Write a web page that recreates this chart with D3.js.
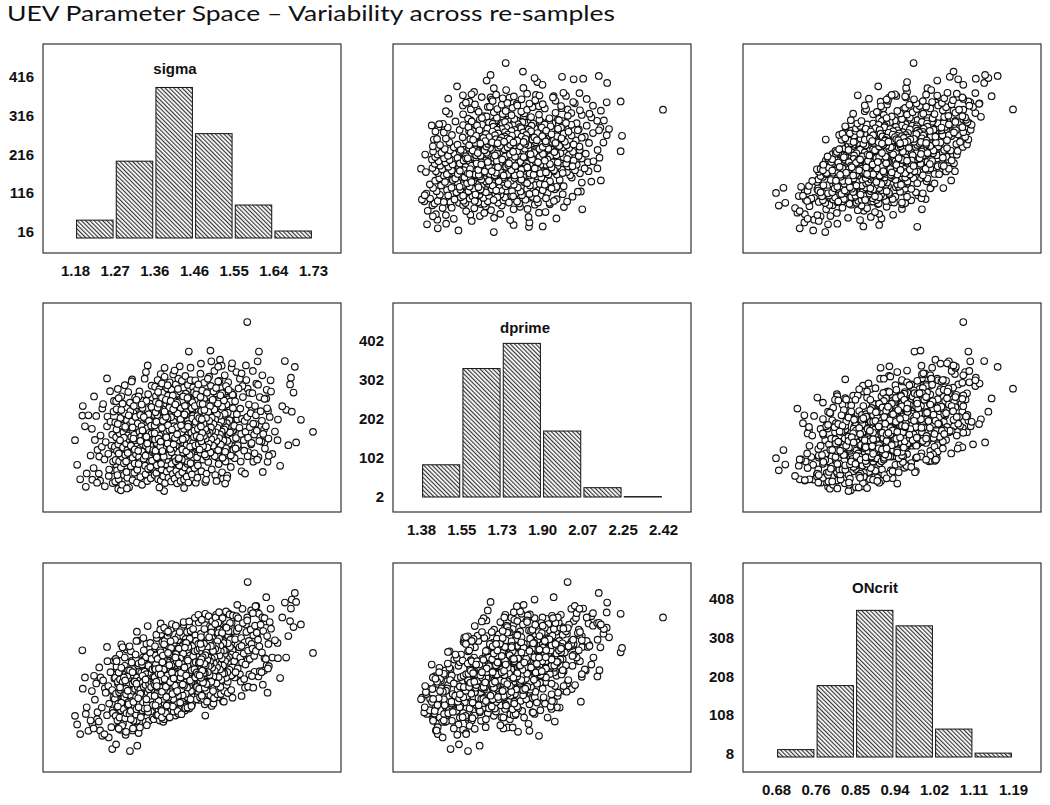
<!DOCTYPE html>
<html><head><meta charset="utf-8">
<script src="https://cdn.jsdelivr.net/npm/d3@7"></script>
<style>body{margin:0;background:#fff}</style>
</head><body>
<svg id="chart" width="1050" height="805"></svg>
<script>
// ---------------- DATA ----------------
const titleText = "UEV Parameter Space \u2013 Variability across re-samples";
const varNames = ["sigma", "dprime", "ONcrit"];
const varMin = [1.18, 1.38, 0.68];
const varMax = [1.73, 2.42, 1.19];
const sigmaCounts = [46, 198, 388, 269, 85, 18];
const dprimeCounts = [83, 331, 396, 170, 24, 1];
const oncritCounts = [19, 184, 378, 338, 72, 10];
const sigmaXLabels = ["1.18", "1.27", "1.36", "1.46", "1.55", "1.64", "1.73"];
const dprimeXLabels = ["1.38", "1.55", "1.73", "1.90", "2.07", "2.25", "2.42"];
const oncritXLabels = ["0.68", "0.76", "0.85", "0.94", "1.02", "1.11", "1.19"];
const sigmaYTicks = [16, 116, 216, 316, 416];
const dprimeYTicks = [2, 102, 202, 302, 402];
const oncritYTicks = [8, 108, 208, 308, 408];
// re-samples: [sigma, dprime, ONcrit]
const tailSamples = [
[1.180,1.693,0.786],[1.185,1.541,0.760],[1.197,1.844,0.984],[1.203,1.778,0.902],[1.205,1.406,0.792],
[1.220,1.450,0.762],[1.238,1.444,0.742],[1.254,2.073,0.994],[1.266,1.507,0.686],[1.275,1.543,0.700],
[1.280,1.394,0.796],[1.286,1.384,0.841],[1.307,1.582,0.680],[1.312,2.067,0.829],[1.324,1.632,0.696],
[1.323,1.960,1.040],[1.348,2.153,1.057],[1.378,2.100,1.065],[1.386,1.380,0.836],[1.387,2.138,0.905],
[1.422,2.147,0.924],[1.443,2.238,0.978],[1.493,2.244,0.991],[1.515,2.188,1.023],[1.481,1.435,0.787],
[1.522,1.455,0.830],[1.565,1.501,0.846],[1.573,1.487,0.871],[1.578,2.420,1.083],[1.579,2.010,1.190],
[1.580,1.620,0.874],[1.592,1.560,0.871],[1.602,2.178,1.098],[1.605,2.238,1.094],[1.604,1.588,0.905],
[1.614,1.497,0.880],[1.617,1.760,0.923],[1.618,1.679,0.960],[1.622,1.950,1.144],[1.625,1.560,0.856],
[1.636,1.608,0.962],[1.648,1.693,1.006],[1.649,1.820,0.960],[1.654,1.535,0.900],[1.665,2.180,1.128],
[1.668,1.880,0.962],[1.673,1.662,1.027],[1.677,2.036,1.072],[1.679,2.077,1.110],[1.681,1.868,1.137],
[1.685,1.986,1.054],[1.688,2.144,1.157],[1.691,1.679,1.130],[1.730,1.744,0.976]
];
const coreSamples = [
[1.216,1.598,0.772],[1.219,1.763,0.861],[1.223,1.521,0.748],[1.226,1.694,0.835],[1.229,1.842,0.884],
[1.232,1.633,0.797],[1.235,1.487,0.769],[1.239,1.721,0.902],[1.242,1.652,0.811],[1.245,1.915,0.893],
[1.248,1.574,0.731],[1.251,1.681,0.856],[1.254,1.778,0.788],[1.257,1.609,0.876],[1.259,1.512,0.823],
[1.262,1.806,0.918],[1.264,1.658,0.752],[1.266,1.727,0.864],[1.268,1.561,0.795],[1.269,1.869,0.842],
[1.271,1.637,0.899],
[1.272,1.652,0.838],[1.273,1.802,0.901],[1.274,1.571,0.786],[1.275,1.711,0.853],[1.276,1.883,0.934],
[1.277,1.626,0.812],[1.278,1.478,0.772],[1.279,1.756,0.889],[1.280,1.667,0.823],[1.281,1.951,0.917],
[1.282,1.563,0.857],[1.283,1.734,0.781],[1.284,1.612,0.896],[1.285,1.829,0.864],[1.286,1.524,0.803],
[1.287,1.693,0.931],[1.288,1.781,0.829],[1.289,1.589,0.756],[1.290,1.917,0.888],[1.291,1.648,0.871],
[1.292,1.741,0.807],[1.293,1.551,0.848],[1.294,1.705,0.842],[1.295,1.858,0.962],[1.296,1.601,0.779],
[1.297,1.768,0.912],[1.298,1.672,0.851],[1.299,1.497,0.794],[1.300,1.814,0.878],[1.301,1.631,0.906],
[1.302,1.722,0.818],[1.303,1.989,0.924],[1.304,1.568,0.827],[1.305,1.699,0.881],[1.306,1.787,0.792],
[1.307,1.615,0.923],[1.308,1.872,0.859],[1.309,1.532,0.801],[1.310,1.712,0.846],[1.311,1.669,0.947],
[1.312,1.808,0.831],[1.313,1.584,0.884],[1.314,1.747,0.862],[1.315,1.638,0.771],[1.316,1.903,0.908],
[1.317,1.726,0.891],[1.318,1.549,0.816],[1.319,1.684,0.867],[1.320,1.836,0.971],[1.321,1.606,0.843],
[1.322,1.773,0.806],[1.323,1.654,0.902],[1.324,1.511,0.829],[1.325,1.796,0.873],[1.326,1.703,0.938],
[1.327,1.962,0.944],[1.328,1.589,0.858],[1.329,1.744,0.821],[1.330,1.641,0.893],[1.331,1.848,0.865],
[1.332,1.559,0.782],[1.333,1.716,0.916],[1.334,1.779,0.849],[1.335,1.623,0.941],[1.336,1.891,0.886],
[1.337,1.668,0.827],[1.338,1.752,0.954],[1.339,1.578,0.874],[1.340,1.697,0.808],[1.341,1.827,0.919],
[1.342,1.536,0.851],[1.343,1.731,0.879],[1.344,1.659,0.963],[1.345,1.934,0.912],[1.346,1.604,0.824],
[1.347,1.767,0.897],[1.348,1.686,0.856],[1.349,1.517,0.798],[1.350,1.853,0.937],[1.351,1.639,0.884],
[1.352,1.738,0.842],[1.353,1.591,0.901],[1.354,1.806,0.976],[1.355,1.677,0.836],[1.356,1.719,0.889],
[1.357,1.897,0.914],[1.358,1.567,0.868],[1.359,1.701,0.927],[1.360,1.618,0.819],[1.361,1.798,0.895],
[1.362,1.662,0.861],
[1.276,1.758,0.951],[1.281,1.611,0.747],[1.287,1.878,0.826],[1.293,1.708,0.902],[1.298,1.561,0.868],
[1.304,1.846,0.821],[1.309,1.659,0.776],[1.313,1.771,0.918],[1.318,1.636,0.889],[1.322,1.941,0.883],
[1.327,1.546,0.812],[1.331,1.688,0.853],[1.336,1.753,0.907],[1.339,1.836,0.984],[1.343,1.597,0.896],
[1.347,1.672,0.809],[1.351,1.811,0.866],[1.354,1.527,0.847],[1.357,1.733,0.958],[1.361,1.632,0.904],
[1.279,1.793,0.814],[1.284,1.692,0.872],[1.296,1.776,0.893],[1.302,1.614,0.862],[1.315,1.703,0.828],
[1.326,1.627,0.839],[1.334,1.912,0.949],[1.345,1.714,0.836],[1.356,1.782,0.873],
[1.363,1.702,0.884],[1.364,1.846,0.931],[1.365,1.611,0.857],[1.366,1.757,0.902],[1.367,1.928,0.968],
[1.368,1.673,0.874],[1.369,1.538,0.829],[1.370,1.794,0.939],[1.371,1.716,0.866],[1.372,1.989,0.957],
[1.373,1.622,0.899],[1.374,1.781,0.823],[1.375,1.654,0.942],[1.376,1.871,0.905],[1.377,1.569,0.846],
[1.378,1.742,0.978],[1.379,1.826,0.871],[1.380,1.633,0.801],[1.381,1.952,0.931],[1.382,1.695,0.914],
[1.383,1.784,0.852],[1.384,1.597,0.893],[1.385,1.751,0.887],[1.386,1.903,1.002],[1.387,1.646,0.824],
[1.388,1.813,0.955],[1.389,1.718,0.896],[1.390,1.544,0.839],[1.391,1.861,0.921],[1.392,1.677,0.949],
[1.393,1.768,0.861],[1.394,2.031,0.967],[1.395,1.614,0.871],[1.396,1.743,0.926],[1.397,1.832,0.836],
[1.398,1.661,0.966],[1.399,1.917,0.902],[1.400,1.578,0.845],[1.401,1.757,0.889],[1.402,1.714,0.991],
[1.403,1.853,0.874],[1.404,1.629,0.928],[1.405,1.792,0.907],[1.406,1.684,0.814],[1.407,1.946,0.951],
[1.408,1.771,0.936],[1.409,1.593,0.859],[1.410,1.728,0.912],[1.411,1.881,1.016],[1.412,1.651,0.887],
[1.413,1.819,0.848],[1.414,1.698,0.946],[1.415,1.556,0.872],[1.416,1.841,0.918],[1.417,1.749,0.983],
[1.418,2.008,0.989],[1.419,1.634,0.901],[1.420,1.789,0.866],[1.421,1.686,0.938],[1.422,1.894,0.909],
[1.423,1.602,0.826],[1.424,1.761,0.961],[1.425,1.823,0.893],[1.426,1.667,0.985],[1.427,1.936,0.931],
[1.428,1.712,0.871],[1.429,1.797,0.997],[1.430,1.623,0.918],[1.431,1.741,0.852],[1.432,1.872,0.963],
[1.433,1.581,0.894],[1.434,1.776,0.923],[1.435,1.704,1.007],[1.436,1.979,0.956],[1.437,1.648,0.868],
[1.438,1.811,0.941],[1.439,1.731,0.899],[1.440,1.562,0.842],[1.441,1.898,0.981],[1.442,1.683,0.928],
[1.443,1.782,0.886],[1.444,1.636,0.945],[1.445,1.849,1.019],[1.446,1.721,0.879],[1.447,1.763,0.933],
[1.448,1.941,0.958],[1.449,1.611,0.912],[1.450,1.744,0.971],[1.451,1.663,0.863],[1.452,1.842,0.939],
[1.453,1.706,0.906],
[1.454,1.789,0.948],[1.453,1.586,0.884],[1.452,1.708,0.997],[1.451,1.927,0.936],[1.450,1.652,0.889],
[1.449,1.804,0.924],[1.448,1.717,0.861],[1.447,1.551,0.903],[1.446,1.883,0.968],[1.445,1.694,0.947],
[1.444,1.768,0.878],[1.443,1.627,0.916],[1.442,1.958,0.994],[1.441,1.733,0.902],[1.440,1.816,0.958],
[1.439,1.642,0.871],[1.438,1.751,0.913],[1.437,1.867,1.006],[1.436,1.596,0.853],[1.435,1.727,0.934],
[1.434,1.689,0.897],[1.433,1.844,0.943],[1.432,1.613,0.921],[1.431,1.779,0.889],[1.430,1.962,0.974],
[1.429,1.668,0.848],[1.428,1.745,0.951],[1.427,1.573,0.904],[1.426,1.808,0.927],[1.425,1.711,0.868],
[1.424,1.889,0.936],[1.423,1.644,0.959],[1.422,1.759,0.893],[1.421,1.537,0.866],[1.420,1.852,0.989],
[1.419,1.701,0.912],[1.418,1.764,0.847],[1.417,1.618,0.934],[1.416,1.923,0.951],[1.415,1.681,0.879],
[1.414,1.797,0.921],[1.413,1.659,0.972],[1.412,1.736,0.856],[1.411,1.584,0.893],[1.410,1.871,0.937],
[1.409,1.722,0.963],[1.408,1.806,0.884],[1.407,1.639,0.837],[1.406,1.968,0.949],[1.405,1.693,0.906],
[1.404,1.772,0.941],[1.403,1.547,0.875],[1.402,1.834,0.917],[1.401,1.664,0.898],[1.400,1.747,0.858],
[1.399,1.612,0.926],[1.398,1.893,0.972],[1.397,1.706,0.884],[1.396,1.785,0.913],[1.395,1.651,0.841],
[1.394,1.827,0.948],[1.393,1.729,0.906],[1.392,1.572,0.862],[1.391,1.759,0.929],[1.390,1.941,0.937],
[1.389,1.687,0.872],[1.388,1.774,0.902],[1.387,1.603,0.919],[1.386,1.819,0.864],[1.385,1.714,0.956],
[1.384,1.648,0.837],[1.383,1.882,0.924],[1.382,1.737,0.881],[1.381,1.564,0.873],[1.380,1.801,0.946],
[1.379,1.691,0.894],[1.378,1.766,0.859],[1.377,1.627,0.908],[1.376,1.909,0.961],[1.375,1.708,0.866],
[1.374,1.793,0.912],[1.373,1.659,0.831],[1.372,1.735,0.951],[1.371,1.581,0.897],[1.370,1.847,0.889],
[1.369,1.676,0.918],[1.368,1.752,0.852],[1.367,1.614,0.941],[1.366,1.864,0.927],[1.365,1.697,0.879],
[1.364,1.783,0.903],
[1.366,1.628,0.818],[1.371,1.893,0.958],[1.375,1.721,0.893],[1.379,1.547,0.851],[1.383,1.812,0.968],
[1.388,1.683,0.934],[1.392,1.746,0.817],[1.396,1.598,0.882],[1.401,1.934,1.011],[1.405,1.718,0.852],
[1.409,1.779,0.921],[1.413,1.563,0.907],[1.417,1.857,0.946],[1.421,1.693,0.896],[1.426,1.741,0.866],
[1.430,1.617,0.879],[1.434,1.904,0.992],[1.438,1.662,0.927],[1.442,1.793,0.909],[1.447,1.688,0.836],
[1.451,1.826,0.956],[1.368,1.806,0.889],[1.373,1.702,0.913],[1.377,1.654,0.871],[1.381,1.768,0.859],
[1.385,1.591,0.926],[1.390,1.837,0.874],[1.394,1.672,0.908],[1.398,1.755,0.939],[1.403,1.619,0.896],
[1.407,1.883,0.918],[1.411,1.706,0.878],[1.415,1.772,0.951],[1.419,1.574,0.912],[1.424,1.821,0.902],
[1.428,1.636,0.942],[1.432,1.762,0.877],[1.436,1.707,0.919],[1.440,1.953,0.938],[1.445,1.602,0.918],
[1.449,1.738,0.889],[1.453,1.677,0.966],[1.364,1.735,0.846],[1.369,1.588,0.876],[1.374,1.917,0.929],
[1.378,1.684,0.911],[1.382,1.626,0.948],[1.387,1.869,0.897],[1.391,1.711,0.843],[1.395,1.785,0.976],
[1.400,1.639,0.888],[1.404,1.758,0.917],[1.408,1.667,0.899],[1.412,1.912,0.962],[1.416,1.729,0.861],
[1.420,1.581,0.944],[1.425,1.784,0.916],[1.429,1.698,0.881],[1.433,1.851,0.932],[1.437,1.624,0.908],
[1.441,1.776,0.953],[1.446,1.653,0.893],[1.450,1.889,0.924],[1.455,1.712,0.944],
[1.456,1.752,0.927],[1.457,1.903,0.981],[1.458,1.661,0.902],[1.459,1.806,0.948],[1.460,1.974,1.012],
[1.461,1.719,0.917],[1.462,1.587,0.873],[1.463,1.841,0.984],[1.464,1.763,0.911],[1.465,2.036,1.003],
[1.466,1.668,0.946],[1.467,1.828,0.868],[1.468,1.701,0.989],[1.469,1.917,0.951],[1.470,1.615,0.891],
[1.471,1.788,1.024],[1.472,1.873,0.917],[1.473,1.679,0.847],[1.474,1.998,0.977],[1.475,1.742,0.961],
[1.476,1.831,0.898],[1.477,1.643,0.939],[1.478,1.797,0.933],[1.479,1.951,1.048],[1.480,1.693,0.871],
[1.481,1.859,1.001],[1.482,1.764,0.943],[1.483,1.592,0.886],[1.484,1.908,0.968],[1.485,1.723,0.996],
[1.486,1.815,0.908],[1.487,2.071,1.014],[1.488,1.662,0.918],[1.489,1.789,0.973],[1.490,1.879,0.883],
[1.491,1.708,1.013],[1.492,1.964,0.949],[1.493,1.625,0.892],[1.494,1.804,0.936],[1.495,1.761,1.038],
[1.496,1.899,0.921],[1.497,1.676,0.976],[1.498,1.838,0.954],[1.499,1.731,0.861],[1.500,1.993,0.998],
[1.501,1.817,0.983],[1.502,1.641,0.906],[1.503,1.775,0.959],[1.504,1.927,1.063],[1.505,1.698,0.934],
[1.506,1.865,0.895],[1.507,1.745,0.993],[1.508,1.603,0.919],[1.509,1.887,0.965],[1.510,1.796,1.031],
[1.511,2.054,1.036],[1.512,1.681,0.948],[1.513,1.836,0.913],[1.514,1.733,0.985],[1.515,1.941,0.956],
[1.516,1.649,0.873],[1.517,1.808,1.008],[1.518,1.869,0.941],[1.519,1.714,1.032],[1.520,1.982,0.978],
[1.521,1.759,0.918],[1.522,1.844,1.044],[1.523,1.669,0.965],[1.524,1.787,0.899],[1.525,1.918,1.011],
[1.526,1.628,0.941],[1.527,1.823,0.969],[1.528,1.751,1.054],[1.529,2.026,1.003],[1.530,1.695,0.915],
[1.531,1.857,0.988],[1.532,1.778,0.946],[1.533,1.609,0.889],[1.534,1.945,1.028],[1.535,1.729,0.976],
[1.536,1.829,0.933],[1.537,1.683,0.992],[1.538,1.896,1.066],[1.539,1.768,0.926],[1.540,1.811,0.981],
[1.541,1.988,1.005],[1.542,1.658,0.959],[1.543,1.791,1.018],[1.544,1.706,0.911],[1.545,1.889,0.986],
[1.546,1.752,0.953],
[1.546,1.633,0.932],[1.545,1.754,1.042],[1.544,1.973,0.984],[1.543,1.699,0.936],[1.542,1.851,0.971],
[1.541,1.764,0.908],[1.540,1.598,0.951],[1.539,1.931,1.016],[1.538,1.741,0.994],[1.537,1.816,0.925],
[1.536,1.672,0.963],[1.535,2.003,1.041],[1.534,1.778,0.949],[1.533,1.862,1.005],[1.532,1.688,0.918],
[1.531,1.797,0.959],[1.530,1.912,1.052],[1.529,1.643,0.901],[1.528,1.774,0.981],[1.527,1.621,0.951],
[1.526,1.855,0.973],[1.525,1.758,0.914],[1.524,1.937,0.983],[1.523,1.691,1.006],[1.522,1.806,0.938],
[1.521,1.584,0.913],[1.520,1.899,1.036],[1.519,1.747,0.959],[1.518,1.811,0.894],[1.517,1.665,0.981],
[1.516,1.969,0.998],[1.515,1.728,0.926],[1.514,1.843,0.968],[1.513,1.706,1.019],[1.512,1.783,0.903],
[1.511,1.631,0.941],[1.510,1.918,0.984],[1.509,1.769,1.011],[1.508,1.853,0.932],[1.507,1.687,0.884],
[1.506,2.014,0.996],[1.505,1.741,0.953],[1.504,1.819,0.988],[1.503,1.594,0.922],[1.502,1.881,0.964],
[1.501,1.712,0.945],[1.500,1.793,0.905],[1.499,1.659,0.982],[1.498,1.941,0.999],[1.497,1.753,0.931],
[1.496,1.832,0.959],[1.495,1.698,0.889],[1.494,1.771,0.997],[1.493,1.617,0.941],[1.492,1.901,0.951],
[1.491,1.739,0.909],[1.490,1.812,1.023],[1.489,1.672,0.936],[1.488,1.867,0.963],[1.487,1.727,0.918],
[1.486,1.648,0.955],[1.485,1.984,0.994],[1.484,1.751,0.882],[1.483,1.829,0.977],[1.482,1.702,0.939],
[1.481,1.761,0.969],[1.480,1.604,0.915],[1.479,1.878,0.943],[1.478,1.719,1.004],[1.477,1.794,0.915],
[1.476,1.656,0.887],[1.475,1.916,0.963],[1.474,1.737,0.922],[1.473,1.821,0.992],[1.472,1.686,0.957],
[1.471,1.777,0.901],[1.470,1.958,1.003],[1.469,1.709,0.947],[1.468,1.635,0.908],
[1.548,1.781,0.951],[1.550,1.932,1.017],[1.552,1.706,0.968],[1.554,1.853,1.042],[1.556,1.662,0.929],
[1.558,2.011,1.051],[1.560,1.769,0.993],[1.562,1.887,0.962],[1.564,1.731,1.021],[1.566,1.824,0.947],
[1.568,1.958,1.066],[1.570,1.693,0.974],[1.572,1.811,1.008],[1.574,1.744,0.941],[1.576,2.063,1.039],
[1.578,1.836,1.074],[1.580,1.708,0.983],[1.582,1.912,1.012],[1.584,1.773,0.958],[1.586,1.859,1.046],
[1.588,1.676,1.003],[1.590,1.982,0.989],[1.592,1.794,1.029],[1.594,1.727,0.967],[1.596,1.903,1.058],
[1.598,1.846,0.982],[1.600,1.751,1.037],[1.603,2.034,1.016],[1.606,1.688,0.996],[1.609,1.871,1.061],
[1.612,1.812,0.977],[1.615,1.731,1.042],[1.618,1.947,1.081],[1.621,1.779,0.958],[1.624,1.889,1.027],
[1.627,1.703,1.003],[1.630,1.836,1.069],[1.633,1.992,1.049],[1.551,1.642,0.918],[1.565,2.104,0.997]
];
const outerSamples = [
[1.192,1.452,0.731],[1.198,1.903,0.868],[1.207,1.488,0.812],[1.211,1.846,0.741],[1.224,1.962,0.907],
[1.231,1.431,0.776],[1.236,1.592,0.932],[1.243,1.887,0.726],[1.249,1.409,0.869],[1.255,1.838,0.951],
[1.258,1.473,0.721],[1.261,1.994,0.862],[1.267,1.429,0.802],[1.270,1.934,0.952],
[1.273,1.438,0.793],[1.275,1.932,0.958],[1.277,1.507,0.927],[1.279,2.008,0.884],[1.281,1.452,0.752],
[1.283,1.871,0.971],[1.285,1.561,0.744],[1.287,1.963,1.002],[1.289,1.419,0.837],[1.291,1.842,0.762],
[1.293,1.478,0.908],[1.295,2.031,0.937],[1.297,1.536,0.729],[1.299,1.893,0.986],[1.301,1.461,0.781],
[1.303,1.788,0.993],[1.305,1.403,0.852],[1.307,1.924,0.781],[1.309,1.582,0.981],[1.311,2.054,0.952],
[1.313,1.447,0.742],[1.315,1.861,0.947],[1.317,1.492,0.869],[1.319,1.955,0.769],[1.321,1.528,0.958],
[1.323,1.432,0.771],[1.325,1.907,1.013],[1.327,1.574,0.734],[1.329,1.993,0.921],[1.331,1.466,0.893],
[1.333,1.868,0.792],[1.335,1.418,0.803],[1.337,1.936,0.962],[1.339,1.552,0.956],[1.341,2.071,0.904],
[1.343,1.483,0.768],[1.345,1.822,1.004],[1.347,1.441,0.872],[1.349,1.976,0.811],[1.351,1.513,0.771],
[1.353,1.917,0.989],[1.355,1.459,0.931],[1.357,2.028,0.867],[1.359,1.547,0.781],[1.361,1.879,0.979],
[1.274,1.661,0.958],[1.282,1.752,0.751],[1.290,1.612,0.993],[1.298,1.797,0.738],[1.306,1.681,0.996],
[1.314,1.734,0.748],[1.322,1.627,1.012],[1.330,1.774,0.751],[1.338,1.652,1.021],[1.346,1.721,0.758],
[1.354,1.689,1.006],[1.362,1.762,0.776],[1.300,1.396,0.812],[1.344,2.112,0.941],
[1.364,1.478,0.836],[1.365,2.021,0.996],[1.366,1.552,0.971],[1.367,1.964,0.812],[1.368,1.491,0.789],
[1.369,1.922,1.021],[1.370,1.604,0.787],[1.371,2.063,0.951],[1.372,1.453,0.882],[1.373,1.893,0.803],
[1.374,1.523,0.956],[1.375,2.007,1.034],[1.376,1.586,0.772],[1.377,1.949,0.984],[1.378,1.444,0.812],
[1.379,1.871,1.032],[1.380,1.512,0.908],[1.381,2.042,0.879],[1.382,1.563,1.009],[1.383,1.985,0.963],
[1.384,1.471,0.768],[1.385,1.908,0.829],[1.386,1.597,0.776],[1.387,2.083,1.012],[1.388,1.429,0.867],
[1.389,1.934,1.044],[1.390,1.541,0.937],[1.391,1.859,0.797],[1.392,1.498,0.811],[1.393,2.012,0.998],
[1.394,1.623,1.028],[1.395,1.967,0.846],[1.396,1.462,0.898],[1.397,1.896,1.037],[1.398,1.578,0.781],
[1.399,2.049,0.962],[1.400,1.516,0.852],[1.401,1.941,0.807],[1.402,1.439,0.801],[1.403,2.004,1.049],
[1.404,1.592,0.992],[1.405,1.877,0.972],[1.406,1.485,0.923],[1.407,2.097,0.994],[1.408,1.548,0.798],
[1.409,1.958,1.006],[1.410,1.456,0.839],[1.411,1.913,0.823],[1.412,1.611,0.787],[1.413,2.036,0.971],
[1.414,1.503,0.981],[1.415,1.979,1.052],[1.416,1.427,0.828],[1.417,1.862,0.796],[1.418,1.566,1.014],
[1.419,2.071,1.027],[1.420,1.479,0.792],[1.421,1.927,0.979],[1.422,1.629,0.806],[1.423,1.992,0.868],
[1.424,1.441,0.906],[1.425,1.882,1.047],[1.426,1.537,0.827],[1.427,2.058,0.984],[1.428,1.496,0.979],
[1.429,1.951,0.829],[1.430,1.582,1.026],[1.431,2.016,1.061],[1.432,1.451,0.819],[1.433,1.904,0.991],
[1.434,1.524,0.802],[1.435,2.088,0.923],[1.436,1.606,1.018],[1.437,1.937,0.814],[1.438,1.468,0.869],
[1.439,1.886,1.039],[1.440,1.547,0.948],[1.441,2.033,0.998],[1.442,1.432,0.837],[1.443,1.969,0.856],
[1.444,1.589,0.808],[1.445,1.911,1.056],[1.446,1.505,0.894],[1.447,2.062,1.042],[1.448,1.566,1.022],
[1.449,1.943,0.831],[1.450,1.482,0.818],[1.451,1.879,0.987],[1.452,1.619,0.829],[1.453,2.017,1.001],
[1.454,1.534,0.961],[1.455,1.988,0.917],
[1.368,1.712,1.031],[1.372,1.785,0.789],[1.377,1.694,1.046],[1.381,1.823,0.781],[1.386,1.741,1.052],
[1.390,1.667,0.794],[1.395,1.806,1.041],[1.399,1.726,0.782],[1.404,1.779,1.063],[1.408,1.702,0.799],
[1.413,1.748,1.058],[1.417,1.815,0.801],[1.422,1.684,1.039],[1.426,1.764,0.791],[1.431,1.721,1.069],
[1.435,1.797,0.809],[1.440,1.658,0.811],[1.444,1.832,1.071],[1.449,1.739,0.816],[1.453,1.774,1.048],
[1.375,1.401,0.858],[1.410,2.121,0.962],[1.432,1.398,0.876],[1.447,2.139,1.016],
[1.456,1.521,0.884],[1.458,2.061,1.029],[1.460,1.598,1.012],[1.462,2.006,0.859],[1.464,1.537,0.846],
[1.466,1.972,1.068],[1.468,1.651,0.834],[1.470,2.102,1.001],[1.472,1.502,0.931],[1.474,1.941,0.851],
[1.476,1.573,1.003],[1.478,2.046,1.081],[1.480,1.635,0.821],[1.482,1.989,1.031],[1.484,1.487,0.862],
[1.486,1.918,1.079],[1.488,1.559,0.953],[1.490,2.084,0.926],[1.492,1.611,1.057],[1.494,2.027,1.011],
[1.496,1.513,0.816],[1.498,1.956,0.876],[1.500,1.642,0.823],[1.502,2.119,1.058],[1.504,1.478,0.913],
[1.506,1.981,1.091],[1.508,1.587,0.983],[1.510,1.907,0.842],[1.512,1.546,0.858],[1.514,2.058,1.046],
[1.516,1.661,1.074],[1.518,2.013,0.894],[1.520,1.495,0.944],[1.522,1.943,1.088],[1.524,1.623,0.829],
[1.526,2.092,1.012],[1.528,1.561,0.868],[1.530,1.993,0.876],[1.532,1.474,0.859],[1.534,2.049,1.096],
[1.536,1.642,1.039],[1.538,1.926,1.018],[1.540,1.528,0.971],[1.542,2.137,1.066],[1.544,1.593,0.841],
[1.546,1.968,1.083],
[1.457,1.768,1.082],[1.461,1.839,0.836],[1.465,1.742,1.091],[1.469,1.857,0.842],[1.473,1.781,1.076],
[1.477,1.726,0.837],[1.481,1.812,1.094],[1.485,1.758,0.829],[1.489,1.846,1.087],[1.493,1.703,0.848],
[1.497,1.794,1.072],[1.501,1.861,0.839],[1.505,1.738,1.083],[1.509,1.823,0.851],[1.513,1.779,1.099],
[1.517,1.714,0.852],[1.521,1.868,1.081],[1.525,1.751,0.861],[1.529,1.806,1.101],[1.533,1.729,0.855],
[1.537,1.848,1.092],[1.541,1.772,0.864],[1.545,1.839,1.089],
[1.459,1.431,0.902],[1.471,2.164,1.034],[1.483,1.449,0.889],[1.495,2.178,1.052],[1.507,1.442,0.898],
[1.519,2.151,0.993],[1.531,1.458,0.918],[1.543,2.166,1.048],[1.463,1.462,0.861],[1.511,2.145,1.067],
[1.527,1.426,0.941],
[1.549,1.582,0.902],[1.553,2.112,1.087],[1.557,1.649,1.081],[1.561,2.071,0.912],[1.563,1.561,0.889],
[1.567,2.026,1.109],[1.571,1.628,0.897],[1.575,2.153,1.062],[1.579,1.594,0.954],[1.583,1.984,0.911],
[1.587,1.667,1.104],[1.591,2.119,1.096],[1.595,1.612,0.919],[1.599,2.041,1.118],[1.601,1.573,1.024],
[1.607,1.958,0.921],[1.611,1.684,0.918],[1.613,2.092,1.083],[1.619,1.641,1.071],[1.623,2.003,0.939],
[1.628,1.597,0.936],[1.632,2.061,1.109],[1.555,1.821,1.121],[1.589,1.886,0.906],[1.597,1.792,1.117],
[1.626,1.874,0.929],
[1.642,1.746,1.014],[1.659,1.902,1.083],[1.702,1.818,1.062]
];
const histCounts = [sigmaCounts, dprimeCounts, oncritCounts];
const histXLabels = [sigmaXLabels, dprimeXLabels, oncritXLabels];
const histYTicks = [sigmaYTicks, dprimeYTicks, oncritYTicks];
const samples = tailSamples.concat(outerSamples, coreSamples);

// ---------------- LAYOUT ----------------
const colX = [43, 393, 743], rowY = [44, 303, 563];
const W = 298, H = 209;
const padL = [32, 28, 33], padR = 28, padT = 19, padB = 21;
const FONT = "'Liberation Sans', Arial, Helvetica, sans-serif";

const svg = d3.select("#chart");
svg.append("rect").attr("width", 1050).attr("height", 805).attr("fill", "#fff");

const defs = svg.append("defs");
const pat = defs.append("pattern").attr("id", "hatch").attr("patternUnits", "userSpaceOnUse")
  .attr("width", 3).attr("height", 3).attr("patternTransform", "rotate(-45)");
pat.append("rect").attr("width", 3).attr("height", 3).attr("fill", "#fff");
pat.append("line").attr("x1", 0.6).attr("y1", -1).attr("x2", 0.6).attr("y2", 4)
  .attr("stroke", "#2a2a2a").attr("stroke-width", 1.1);

svg.append("text").attr("x", 7).attr("y", 20.5)
  .attr("font-family", "Lato, 'Open Sans', sans-serif").attr("font-size", 21.5)
  .attr("textLength", 608).attr("lengthAdjust", "spacingAndGlyphs")
  .attr("fill", "#111").text(titleText);

const xScales = varNames.map((v, j) => d3.scaleLinear().domain([varMin[j], varMax[j]])
  .range([colX[j] + padL[j], colX[j] + W - padR]));
const yScales = varNames.map((v, i) => d3.scaleLinear().domain([varMin[i], varMax[i]])
  .range([rowY[i] + H - padB, rowY[i] + padT]));

for (let i = 0; i < 3; i++) {
  for (let j = 0; j < 3; j++) {
    const g = svg.append("g");
    const bx = colX[j], by = rowY[i];
    if (i === j) {
      const xs = xScales[j];
      const hy = d3.scaleLinear().domain([0, 500]).range([by + H - 15, by]);
      const step = (varMax[j] - varMin[j]) / 6;
      const edges = d3.range(7).map(k => varMin[j] + k * step);
      const counts = histCounts[j];
      g.selectAll("rect.bar").data(counts).join("rect").attr("class", "bar")
        .attr("x", (c, k) => xs(edges[k]) + 1.6)
        .attr("width", (c, k) => xs(edges[k + 1]) - xs(edges[k]) - 3.2)
        .attr("y", c => hy(c))
        .attr("height", c => hy(0) - hy(c))
        .attr("fill", "url(#hatch)").attr("stroke", "#111").attr("stroke-width", 1);
      const ya = g.append("g").attr("transform", `translate(${bx},0)`)
        .call(d3.axisLeft(hy).tickValues(histYTicks[j]).tickSize(0).tickPadding(9));
      ya.select(".domain").remove();
      const xa = g.append("g").attr("transform", `translate(0,${by + H})`)
        .call(d3.axisBottom(xs).tickValues(edges).tickFormat((d, k) => histXLabels[j][k])
          .tickSize(0).tickPadding(12.8));
      xa.select(".domain").remove();
      g.selectAll(".tick text").attr("font-family", FONT).attr("font-size", 15)
        .attr("font-weight", "bold").attr("fill", "#111");
      g.append("text").attr("x", bx + W / 2 - 17).attr("y", by + 29.5)
        .attr("text-anchor", "middle").attr("font-family", FONT).attr("font-size", 15)
        .attr("font-weight", "bold").attr("fill", "#111").text(varNames[j]);
    } else {
      const xs = xScales[j], ys = yScales[i];
      g.selectAll("circle").data(samples).join("circle")
        .attr("cx", d => xs(d[j])).attr("cy", d => ys(d[i])).attr("r", 3.3)
        .attr("fill", "#fff").attr("stroke", "#111").attr("stroke-width", 1.15);
    }
    g.append("rect").attr("x", bx).attr("y", by).attr("width", W).attr("height", H)
      .attr("fill", "none").attr("stroke", "#333").attr("stroke-width", 1.2);
  }
}
</script>
</body></html>
